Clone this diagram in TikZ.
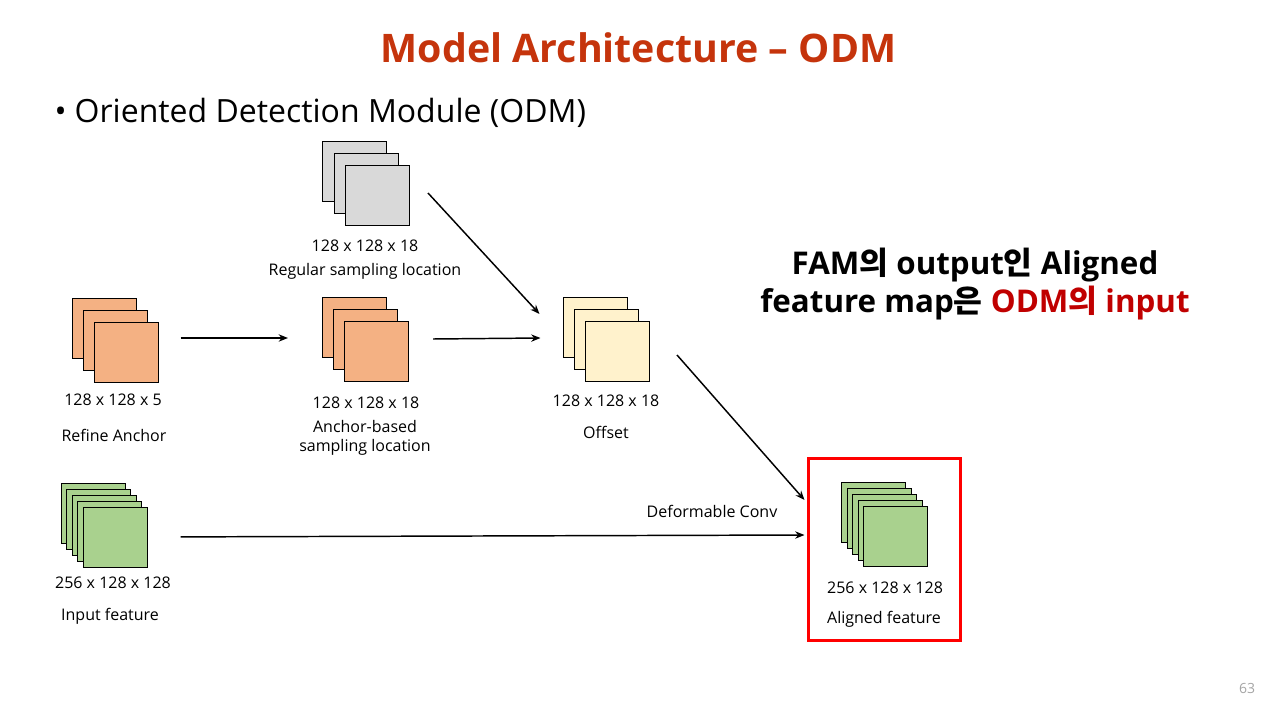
\documentclass[tikz,border=0pt]{standalone}
\usepackage{fontspec}
\setmainfont{Open Sans}
\newfontfamily\krfont{Noto Sans CJK KR}
\usetikzlibrary{arrows.meta,calc,positioning}
\definecolor{titlered}{RGB}{197,52,12}
\definecolor{darkred}{RGB}{192,0,0}
\definecolor{anchorfill}{RGB}{244,177,131}
\definecolor{gridfill}{RGB}{217,217,217}
\definecolor{offsetfill}{RGB}{255,242,204}
\definecolor{featfill}{RGB}{169,209,142}
\definecolor{pagegray}{RGB}{165,165,165}
\tikzset{
  fmap/.style={draw=black,line width=0.75pt,minimum width=48pt,minimum height=45pt,inner sep=0pt},
  lbl/.style={font=\fontsize{12}{14.25}\selectfont,inner sep=0pt,align=center},
  flow/.style={-{Stealth[length=7pt,width=5.5pt]},line width=1.1pt},
}
\begin{document}
\begin{tikzpicture}[x=0.75pt,y=-0.75pt]
\useasboundingbox[fill=white] (0,0) rectangle (1280,720);

\node[font=\fontsize{29.5}{34}\selectfont\bfseries,text=titlered] (title) at (638.5,48) {Model Architecture -- ODM};
\node[anchor=west,font=\fontsize{24}{28}\selectfont] (bullet) at (50,113) {\textbullet\hspace{6pt}Oriented Detection Module (ODM)};

% feature map stacks
\foreach \i in {0,1,2} \node[fmap,fill=gridfill] (grid\i) at ({354.5+11.5*\i},{172+12*\i}) {};
\foreach \i in {0,1,2} \node[fmap,fill=anchorfill] (ra\i) at ({104+11*\i},{328+12*\i}) {};
\foreach \i in {0,1,2} \node[fmap,fill=anchorfill] (ab\i) at ({354.5+11*\i},{327+12*\i}) {};
\foreach \i in {0,1,2} \node[fmap,fill=offsetfill] (off\i) at ({595+11*\i},{327.5+12*\i}) {};
\foreach \i in {0,...,4} \node[fmap,fill=featfill] (in\i) at ({93.5+5.4*\i},{513+6.1*\i}) {};
\foreach \i in {0,...,4} \node[fmap,fill=featfill] (al\i) at ({873.5+5.6*\i},{512.5+6.1*\i}) {};

% labels
\node[lbl] (gridsize) at (365,246) {128 x 128 x 18};
\node[lbl] (gridname) at (365,271) {Regular sampling location};
\node[lbl] (rasize) at (113,400) {128 x 128 x 5};
\node[lbl] (raname) at (114,435) {Refine Anchor};
\node[lbl] (absize) at (366,403) {128 x 128 x 18};
\node[lbl] (abname) at (365,437.5) {Anchor-based\\sampling location};
\node[lbl] (offsize) at (606,401) {128 x 128 x 18};
\node[lbl] (offname) at (606,432) {Offset};
\node[lbl] (insize) at (113,583) {256 x 128 x 128};
\node[lbl] (inname) at (110,616) {Input feature};
\node[lbl] (alsize) at (885,588) {256 x 128 x 128};
\node[lbl] (alname) at (884,619) {Aligned feature};
\node[lbl] (conv) at (712,511) {Deformable Conv};

% arrows
\draw[flow] ($(ra2.east)+(22,-14)$) -- ($(ab0.west)+(-34,11)$);
\draw[flow] ($(ab2.east)+(24,-12)$) -- ($(off0.west)+(-22,10.5)$);
\draw[flow] ($(grid2.east)+(18,-3)$) -- ($(off0.west)+(-23,-13.5)$);
\draw[flow] ($(off2.east)+(27.5,3.5)$) -- ($(al0.west)+(-36.5,-12.5)$);
\draw[flow] ($(in4.east)+(33,-0.5)$) -- ($(al0.west)+(-36.5,22.5)$);

% highlight
\draw[red,line width=2.25pt] (808,458) rectangle (960,640);

\node[font=\fontsize{23.5}{29}\selectfont\bfseries,align=center] (note) at (975,284)
  {FAM{\krfont 의} output{\krfont 인} Aligned\\feature map{\krfont 은} \textcolor{darkred}{ODM{\krfont 의} input}};
\node[text=pagegray,font=\fontsize{10.5}{12}\selectfont] (page) at (1247,688) {63};
\end{tikzpicture}
\end{document}
